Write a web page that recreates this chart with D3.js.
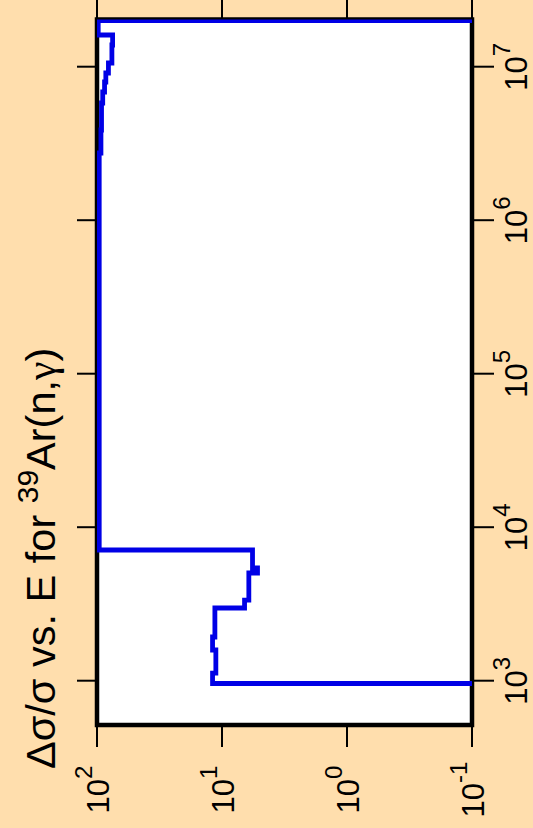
<!DOCTYPE html>
<html>
<head>
<meta charset="utf-8">
<script src="https://cdn.jsdelivr.net/npm/d3@7"></script>
<style>
  html, body { margin: 0; padding: 0; background: #FFDEAD; }
  svg { display: block; }
  text { font-family: "Liberation Sans", Arial, Helvetica, sans-serif; fill: #000; }
</style>
</head>
<body>
<svg id="chart" width="533" height="828"></svg>
<script>
// Group-wise energy bins (eV) and relative uncertainty of the capture cross section
const energyEdges = [700, 959, 1122, 1585, 1926, 2976, 3354, 5030, 5423, 7103,
  2.74e6, 3.87e6, 5.80e6, 6.84e6, 7.95e6, 9.10e6, 1.057e7, 1.385e7, 1.609e7, 2.0e7, 3.0e7];
const relUncertainty = [0.04, 11.9, 11.2, 11.9, 11.4, 6.6, 6.1, 5.2, 5.7,
  96, 93, 92, 90, 87, 85, 81, 76, 75, 97.8, 0.04];

const energyTicks = [1e3, 1e4, 1e5, 1e6, 1e7];
const energyTickExp = ["3", "4", "5", "6", "7"];
const valueTicks = [100, 10, 1, 0.1];
const valueTickExp = ["2", "1", "0", "-1"];

const titleMain = "\u0394\u03c3/\u03c3 vs. E for ";
const titleSup = "39";
const titleEnd = "Ar(n,";
const titleGamma = "\u03b3";

// The plot is laid out landscape (828 x 533) and turned a quarter turn.
const W = 828, H = 533;
const box = { left: 103, right: 808.5, top: 97, bottom: 472 };

const svg = d3.select("#chart");
const g = svg.append("g").attr("transform", `translate(0,${W}) rotate(-90)`);

g.append("rect").attr("width", W).attr("height", H).attr("fill", "#FFDEAD");

const x = d3.scaleLog().domain([1e3, 1e7]).range([147.3, 761.3]);
const y = d3.scaleLog().domain([100, 0.1]).range([97, 472]);

g.append("defs").append("clipPath").attr("id", "plotclip")
  .append("rect")
  .attr("x", box.left).attr("y", box.top)
  .attr("width", box.right - box.left).attr("height", box.bottom - box.top);

// plot area
g.append("rect")
  .attr("x", box.left).attr("y", box.top)
  .attr("width", box.right - box.left).attr("height", box.bottom - box.top)
  .attr("fill", "#fff").attr("stroke", "#000").attr("stroke-width", 4.5);

// ticks on all four sides
const tickLen = 22;
const ticks = g.append("g").attr("stroke", "#000").attr("stroke-width", 2);
energyTicks.forEach(e => {
  ticks.append("line").attr("x1", x(e)).attr("x2", x(e))
    .attr("y1", box.bottom).attr("y2", box.bottom + tickLen);
  ticks.append("line").attr("x1", x(e)).attr("x2", x(e))
    .attr("y1", box.top).attr("y2", box.top - tickLen + 2);
});
valueTicks.forEach(v => {
  ticks.append("line").attr("y1", y(v)).attr("y2", y(v))
    .attr("x1", box.left).attr("x2", box.left - tickLen);
  ticks.append("line").attr("y1", y(v)).attr("y2", y(v))
    .attr("x1", box.right).attr("x2", box.right + tickLen);
});

// step curve
const pts = relUncertainty.map((v, i) => [energyEdges[i], v]);
pts.push([energyEdges[energyEdges.length - 1], relUncertainty[relUncertainty.length - 1]]);
const line = d3.line()
  .x(d => x(d[0]))
  .y(d => y(d[1]))
  .curve(d3.curveStepAfter);
g.append("path")
  .attr("clip-path", "url(#plotclip)")
  .attr("d", line(pts))
  .attr("fill", "none")
  .attr("stroke", "#0000e6")
  .attr("stroke-width", 4.8)
  .attr("stroke-linejoin", "miter");

// power-of-ten labels
function powLabel(parent, px, py, exp, anchor) {
  const t = parent.append("text")
    .attr("x", px).attr("y", py)
    .attr("text-anchor", anchor)
    .attr("font-size", 31);
  t.append("tspan").text("10");
  t.append("tspan").attr("font-size", 24).attr("dy", -17).text(exp);
  return t;
}
energyTicks.forEach((e, i) => powLabel(g, x(e), 527, energyTickExp[i], "middle"));
valueTicks.forEach((v, i) => powLabel(g, 38.5, y(v) + 12, valueTickExp[i], "middle"));

// title
const title = g.append("text").attr("x", 59).attr("y", 55).attr("font-size", 41.5);
title.append("tspan").text(titleMain);
title.append("tspan").attr("font-size", 30).attr("dy", -17).text(titleSup);
title.append("tspan").attr("dy", 17).text(titleEnd);
title.append("tspan").style("font-family", "'Liberation Serif', 'DejaVu Serif', serif").text(titleGamma);
title.append("tspan").text(")");
</script>
</body>
</html>
